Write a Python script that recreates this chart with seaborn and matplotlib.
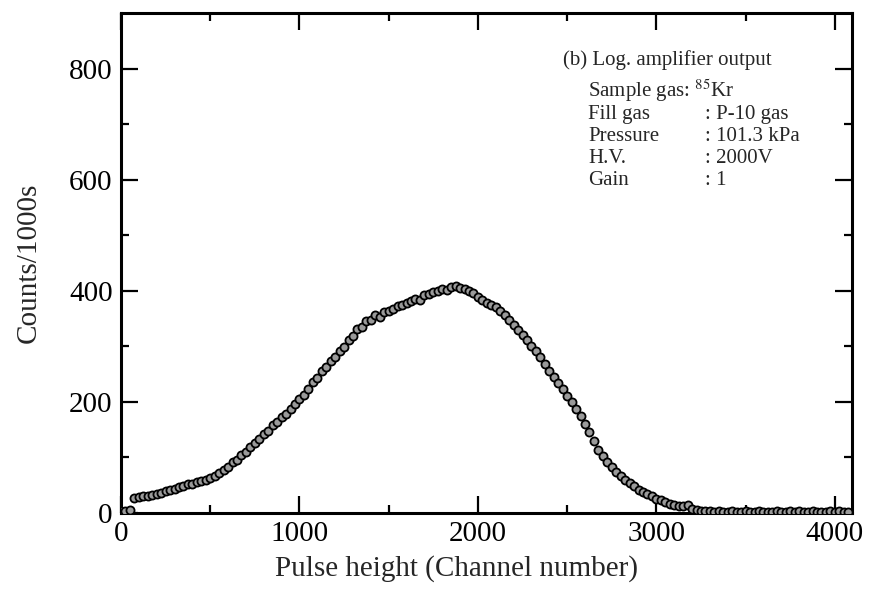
import numpy as np
import pandas as pd
import matplotlib
matplotlib.use("Agg")
import matplotlib.pyplot as plt
import seaborn as sns

# ---- data ----
channels = list(range(0, 4100, 25))
counts = [
    # 0 - 475
    4, 3, 6, 27, 29, 31, 30, 33, 35, 36, 40, 42, 44, 47, 48, 52, 53, 56, 58, 60,
    # 500 - 975
    63, 66, 72, 77, 83, 91, 96, 104, 110, 119, 126, 134, 142, 148, 158, 163, 172, 179, 187, 197,
    # 1000 - 1475
    205, 213, 224, 235, 243, 256, 262, 273, 280, 291, 298, 311, 318, 332, 335, 345, 347, 356, 352, 361,
    # 1500 - 1975
    364, 368, 372, 374, 378, 381, 386, 384, 392, 395, 397, 400, 403, 401, 406, 408, 405, 404, 400, 396,
    # 2000 - 2475
    389, 384, 378, 375, 370, 364, 356, 347, 339, 329, 320, 311, 301, 291, 280, 268, 256, 245, 234, 223,
    # 2500 - 2975
    211, 199, 187, 174, 161, 146, 130, 114, 102, 92, 83, 74, 66, 59, 54, 48, 42, 38, 34, 30,
    # 3000 - 3475
    26, 23, 20, 17, 15, 13, 12, 14, 8, 5, 4, 3, 3, 2, 3, 2, 2, 3, 2, 2,
    # 3500 - 3975
    3, 2, 2, 3, 2, 2, 2, 3, 2, 2, 3, 2, 3, 2, 2, 3, 2, 2, 2, 3,
    # 4000 - 4075
    2, 3, 2, 2,
]
n = min(len(channels), len(counts))
df = pd.DataFrame({"channel": channels[:n], "counts": counts[:n]})

x_ticks = [0, 1000, 2000, 3000, 4000]
y_ticks = [0, 200, 400, 600, 800]
title_text = "(b) Log. amplifier output"
info_labels = ["Sample gas", "Fill gas", "Pressure", "H.V.", "Gain"]
info_values = ["$^{85}$Kr", "P-10 gas", "101.3 kPa", "2000V", "1"]

# ---- style ----
sns.set_style("ticks")
plt.rcParams["font.family"] = ["Liberation Serif", "DejaVu Serif"]
plt.rcParams["mathtext.fontset"] = "stix"

W, H = 872, 602
fig = plt.figure(figsize=(W / 100, H / 100), dpi=100)
ax = fig.add_axes([121 / W, 1 - 513 / H, (852 - 121) / W, (513 - 13) / H])

sns.scatterplot(data=df, x="channel", y="counts", ax=ax, marker="o", s=34,
                color="#9a9a9a", edgecolor="black", linewidth=1.3, legend=False,
                zorder=3)

ax.set_xlim(0, 4096)
ax.set_ylim(0, 900)
ax.set_xticks(x_ticks)
ax.set_yticks(y_ticks)
ax.set_xticks(np.arange(500, 4096, 1000), minor=True)
ax.set_yticks(np.arange(100, 900, 200), minor=True)
ax.tick_params(which="both", direction="in", top=True, right=True,
               labelsize=21, width=1.6, colors="black")
ax.tick_params(which="major", length=12, pad=6)
ax.tick_params(which="minor", length=6)
for sp in ax.spines.values():
    sp.set_linewidth(2.2)
    sp.set_color("black")

ax.set_xlabel("Pulse height (Channel number)", fontsize=21, labelpad=4)
ax.xaxis.set_label_coords((456 - 121) / (852 - 121), -0.085)
ax.set_ylabel("Counts/1000s", fontsize=21, labelpad=20)


def px_text(x, y_top, s, **kw):
    """place text at pixel coordinates measured from the top-left corner"""
    ax.text(x / W, 1 - y_top / H, s, transform=fig.transFigure, fontsize=15,
            va="baseline", ha="left", **kw)


px_text(563, 65, title_text)
row_y = [97, 119, 141, 163, 185]
for i, (lab, val) in enumerate(zip(info_labels, info_values)):
    if i == 0:
        px_text(588, row_y[i], f"{lab}: {val}")
    else:
        px_text(588, row_y[i], lab)
        px_text(705, row_y[i], f": {val}")

fig.savefig("out.png", dpi=100, facecolor="white")
